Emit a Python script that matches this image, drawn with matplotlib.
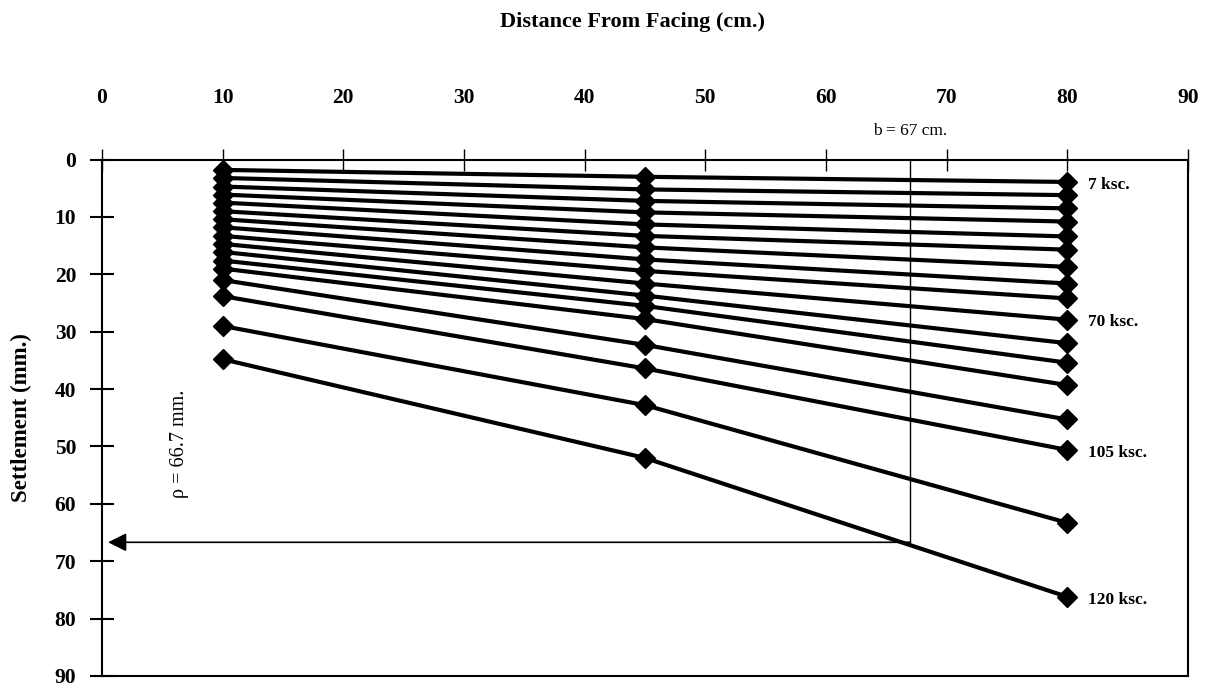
import numpy as np
import matplotlib.pyplot as plt

plt.rcParams['font.family'] = ['Liberation Serif', 'DejaVu Serif']

# distance of the gauges from the facing (cm)
dist = [10, 45, 80]

# settlement (mm) at each gauge, one entry per load step
s_10 = [1.8, 3.2, 4.7, 6.1, 7.5, 9.0, 10.4, 11.8, 13.3, 14.7, 16.1, 17.6, 19.0, 21.0, 23.8, 29.0, 34.8]
s_45 = [3.0, 5.2, 7.2, 9.2, 11.3, 13.3, 15.3, 17.4, 19.4, 21.6, 23.7, 25.5, 27.8, 32.3, 36.4, 42.8, 52.0]
s_80 = [3.9, 6.2, 8.5, 10.8, 13.4, 15.7, 18.7, 21.6, 24.2, 27.9, 32.0, 35.4, 39.3, 45.3, 50.6, 63.3, 76.2]

# load labels written next to some curves
label_idx = [0, 9, 14, 16]
label_txt = ["7 ksc.", "70 ksc.", "105 ksc.", "120 ksc."]

b_width = 67      # cm
rho = 66.7        # mm

fig = plt.figure(figsize=(12.16, 6.89), dpi=100)
ax = fig.add_axes([0.0839, 0.0189, 0.893, 0.7495])

for i in range(len(s_10)):
    ax.plot(dist, [s_10[i], s_45[i], s_80[i]], color='black', lw=3,
            marker='D', ms=10.5, mfc='black', mec='black')

for i, t in zip(label_idx, label_txt):
    ax.annotate(t, xy=(dist[-1], s_80[i]), xytext=(15, -2), textcoords='offset points',
                va='center', ha='left', fontsize=12.5, fontweight='bold')

# b and rho construction
ax.plot([b_width, b_width], [0, rho], color='black', lw=1)
ax.annotate('', xy=(0.5, rho), xytext=(b_width, rho),
            arrowprops=dict(arrowstyle='-|>', color='black', lw=1.2,
                            mutation_scale=28, shrinkA=0, shrinkB=0))
ax.text(b_width, -5.0, "b = 67 cm.", ha='center', va='center', fontsize=12.5, clip_on=False)
ax.text(6.4, 49.5, "\u03c1 = 66.7 mm.", rotation=90, ha='center', va='center', fontsize=14.5)

ax.set_xlim(0, 90)
ax.set_ylim(90, 0)
ax.set_xticks(np.arange(0, 91, 10))
ax.set_yticks(np.arange(0, 91, 10))
ax.xaxis.tick_top()
ax.tick_params(axis='x', direction='inout', length=16, width=1, pad=29, labelsize=15.5)
ax.tick_params(axis='y', direction='inout', length=17, width=1.5, pad=10, labelsize=15.5)
for lab in ax.get_xticklabels() + ax.get_yticklabels():
    lab.set_fontweight('bold')
for sp in ax.spines.values():
    sp.set_linewidth(1.5)

fig.text(633 / 1216, 1 - 22 / 689, "Distance From Facing (cm.)", ha='center', va='center',
         fontsize=16, fontweight='bold')
fig.text(21 / 1216, 1 - 418 / 689, "Settlement (mm.)", rotation=90, ha='center', va='center',
         fontsize=16.5, fontweight='bold')

fig.savefig('out.png', dpi=100)
